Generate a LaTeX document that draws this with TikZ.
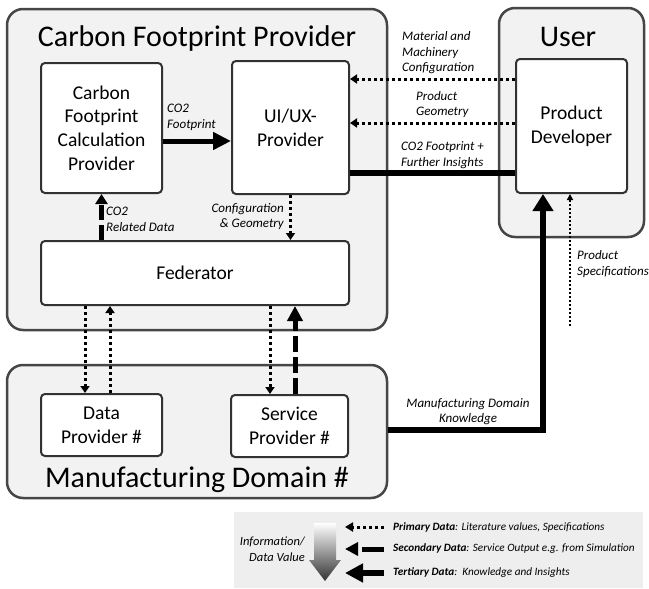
\documentclass[tikz,border=0pt]{standalone}
\usepackage{fontspec}
\setmainfont{Carlito}
\usetikzlibrary{arrows.meta, positioning, calc}
\definecolor{cfpline}{RGB}{70, 70, 70}
\definecolor{cfpfill}{RGB}{242, 242, 242}
\definecolor{cfpbox}{RGB}{50, 50, 50}
\definecolor{legfill}{RGB}{238, 238, 238}
\newcommand{\headfont}{\fontsize{30}{36}\selectfont}
\newcommand{\boxfont}{\fontsize{19.5}{23.7}\selectfont}
\newcommand{\lblfont}{\fontsize{13}{15.6}\selectfont\itshape}
\newcommand{\legfont}{\fontsize{11.2}{13.4}\selectfont\itshape}
\tikzset{
  container/.style={rectangle, rounded corners=16pt, draw=cfpline, fill=cfpfill,
                    line width=2.5pt, inner sep=0pt},
  block/.style={rectangle, rounded corners=4pt, draw=cfpbox, fill=white,
                line width=2pt, align=center, inner sep=0pt, font=\boxfont},
  heading/.style={font=\headfont, inner sep=0pt},
  lbl/.style={font=\lblfont, inner sep=0pt},
  legtext/.style={font=\legfont, inner sep=0pt, anchor=west},
  prim/.style={line width=3pt, dash pattern=on 3pt off 3pt, color=black,
               -{Triangle[length=7pt, width=9pt]}},
  primthin/.style={line width=2pt, dash pattern=on 2pt off 2pt, color=black,
                   -{Triangle[length=6pt, width=6pt]}},
  secnd/.style={line width=5pt, dash pattern=on 16pt off 5pt, color=black,
                -{Triangle[length=15pt, width=15pt]}},
  secndsmall/.style={line width=5pt, dash pattern=on 15pt off 5pt, color=black,
                     -{Triangle[length=10pt, width=12pt]}},
  tert/.style={line width=5pt, color=black, -{Triangle[length=18pt, width=17pt]}},
  know/.style={line width=6pt, color=black, -{Triangle[length=17pt, width=20pt]}},
  plainline/.style={line width=6pt, color=black},
}

\begin{document}
\begin{tikzpicture}[x=1pt, y=-1pt]
  \useasboundingbox (0,0) rectangle (649,589);

  % containers
  \node[container, minimum width=380pt, minimum height=321pt] (cfp) at (197,169.5) {};
  \node[container, minimum width=145pt, minimum height=229pt] (user) at (571.5,122.5) {};
  \node[container, minimum width=380pt, minimum height=133pt] (md) at (197,431.5) {};
  \node[heading] (cfptitle) at (197,39) {Carbon Footprint Provider};
  \node[heading] (usertitle) at (568,37) {User};
  \node[heading] (mdtitle) at (197,480) {Manufacturing Domain \#};

  % blocks
  \node[block, minimum width=121pt, minimum height=130pt] (cfcp) at (101.5,128)
       {Carbon\\Footprint\\Calculation\\Provider};
  \node[block, minimum width=117pt, minimum height=133pt] (ui) at (290.5,127.5) {UI/UX-\\Provider};
  \node[block, minimum width=308pt, minimum height=64pt] (fed) at (195,273) {Federator};
  \node[block, minimum width=111pt, minimum height=134pt] (pd) at (571.5,126) {Product\\Developer};
  \node[block, minimum width=121pt, minimum height=62pt] (dp) at (101.5,425) {Data\\Provider \#};
  \node[block, minimum width=117pt, minimum height=62pt] (sp) at (289.5,426) {Service\\Provider \#};

  % connectors inside the provider
  \draw[tert] (cfcp.east |- 0,141) -- (ui.west |- 0,141);
  \node[lbl, anchor=west, align=left] (lblfoot) at (167,117.5) {CO2\\Footprint};
  \draw[secndsmall] (fed.north -| cfcp.south) -- (cfcp.south);
  \node[lbl, anchor=west, align=left] (lblrel) at (106,219.5) {CO2\\Related Data};
  \draw[prim] (ui.south) -- (fed.north -| ui.south);
  \node[lbl, anchor=east, align=right] (lblconf) at (284,216.5) {Configuration\\\& Geometry};

  % user connectors
  \draw[prim] (pd.west |- 0,79) -- (ui.east |- 0,79);
  \node[lbl, anchor=west, align=left] (lblmat) at (402,53) {Material and\\Machinery\\Configuration};
  \draw[prim] (pd.west |- 0,123) -- (ui.east |- 0,123);
  \node[lbl, anchor=west, align=left] (lblgeo) at (416,104.5) {Product\\Geometry};
  \draw[plainline] (ui.east |- 0,173) -- (pd.west |- 0,173);
  \node[lbl, anchor=west, align=left] (lblins) at (401,155) {CO2 Footprint +\\Further Insights};

  % domain connectors
  \draw[prim] (fed.south -| 85,0) -- (dp.north -| 85,0);
  \draw[prim] (dp.north -| 110,0) -- (fed.south -| 110,0);
  \draw[prim] (fed.south -| 270,0) -- (sp.north -| 270,0);
  \draw[secnd] (sp.north -| 295,0) -- (fed.south -| 295,0);
  \draw[know] (md.east |- 0,430) -| (pd.south -| 543,0);
  \node[lbl, align=center] (lblknow) at (468,411.5) {Manufacturing Domain\\Knowledge};
  \coordinate (specs) at (570,326);
  \draw[primthin] (specs) -- (pd.south -| specs);
  \node[lbl, anchor=west, align=left] (lblspec) at (577,264) {Product\\Specifications};

  % legend
  \node[rectangle, fill=legfill, minimum width=409pt, minimum height=76pt, inner sep=0pt]
       (legend) at (438.5,550) {};
  \shade[top color=white, bottom color=black!80] (314,523) -- (336,523) -- (336,560)
        -- (341,560) -- (325,581) -- (309,560) -- (314,560) -- cycle;
  \node[font=\fontsize{12.5}{15.5}\selectfont\itshape, inner sep=0pt, anchor=east, align=right]
       (legval) at (305,549) {Information/\\Data Value};
  \coordinate (lpa) at (384,527);  \coordinate (lpb) at (345,527);
  \coordinate (lsa) at (384,549);  \coordinate (lsb) at (345,549);
  \coordinate (lta) at (384,573);  \coordinate (ltb) at (345,573);
  \draw[line width=3pt, dash pattern=on 3pt off 3pt, -{Triangle[length=8pt, width=9pt]}] (lpa) -- (lpb);
  \draw[line width=5pt, dash pattern=on 22pt off 5pt, -{Triangle[length=13pt, width=13pt]}] (lsa) -- (lsb);
  \draw[line width=6pt, -{Triangle[length=18pt, width=18pt]}] (lta) -- (ltb);
  \node[legtext] (legp) at (393,527) {\textbf{Primary Data}: Literature values, Specifications};
  \node[legtext] (legs) at (393,549) {\textbf{Secondary Data}: Service Output e.g. from Simulation};
  \node[legtext] (legt) at (393,573) {\textbf{Tertiary Data}:\ \ Knowledge and Insights};
\end{tikzpicture}
\end{document}
